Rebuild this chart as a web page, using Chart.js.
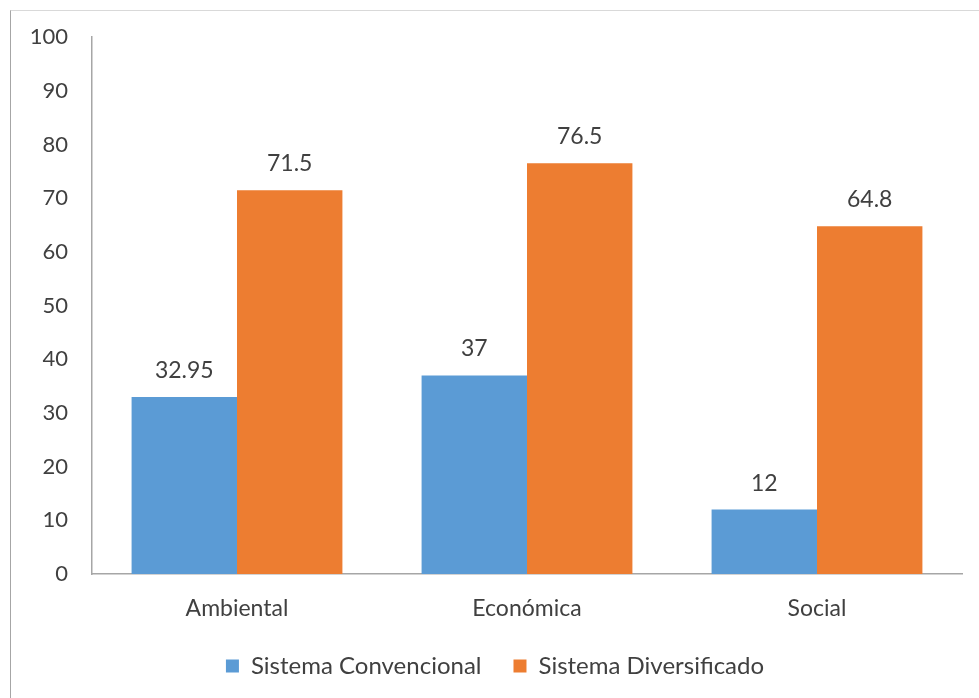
<!DOCTYPE html>
<html>
<head>
<meta charset="utf-8">
<script src="https://cdn.jsdelivr.net/npm/chart.js@4"></script>
<style>
  html, body { margin: 0; padding: 0; background: #fff; overflow: hidden; }
  #frame {
    position: absolute; left: 10px; top: 10px; width: 1000px; height: 720px;
    border-top: 1px solid #d9d9d9; border-left: 1px solid #a6a6a6;
  }
  #wrap { position: absolute; left: 0; top: 0; width: 979px; height: 698px; }
</style>
</head>
<body>
<div id="frame"></div>
<div id="wrap"><canvas id="chart"></canvas></div>
<script>
const categories = ['Ambiental', 'Económica', 'Social'];
const convencional = [32.95, 37, 12];
const diversificado = [71.5, 76.5, 64.8];
const yTicks = [0, 10, 20, 30, 40, 50, 60, 70, 80, 90, 100];

const FONT = 'Lato, "Open Sans", sans-serif';
const TEXT = '#404040';

// writes each bar's value just above it
const valueLabels = {
  id: 'valueLabels',
  afterDatasetsDraw(chart) {
    const ctx = chart.ctx;
    ctx.save();
    ctx.font = '23px ' + FONT;
    ctx.fillStyle = TEXT;
    ctx.textAlign = 'center';
    ctx.textBaseline = 'bottom';
    chart.data.datasets.forEach((ds, i) => {
      chart.getDatasetMeta(i).data.forEach((bar, j) => {
        ctx.fillText(String(ds.data[j]), bar.x, bar.y - 15);
      });
    });
    ctx.restore();
  }
};

new Chart(document.getElementById('chart'), {
  type: 'bar',
  data: {
    labels: categories,
    datasets: [
      { label: 'Sistema Convencional', data: convencional, backgroundColor: '#5b9bd5' },
      { label: 'Sistema Diversificado', data: diversificado, backgroundColor: '#ed7d31' }
    ]
  },
  options: {
    responsive: true,
    maintainAspectRatio: false,
    animation: false,
    datasets: { bar: { categoryPercentage: 0.727, barPercentage: 1 } },
    layout: { padding: { top: 31, right: 17, bottom: 10, left: 28 } },
    plugins: {
      tooltip: { enabled: false },
      legend: {
        position: 'bottom',
        labels: {
          font: { family: FONT, size: 24 },
          color: TEXT,
          boxWidth: 13,
          boxHeight: 13,
          padding: 32
        }
      }
    },
    scales: {
      x: {
        grid: { display: false, drawTicks: false },
        border: { color: '#a6a6a6', width: 1.5 },
        ticks: { font: { family: FONT, size: 23 }, color: TEXT, padding: 21 },
        afterFit(scale) { scale.height = 48; }
      },
      y: {
        min: 0,
        max: 100,
        afterBuildTicks(scale) { scale.ticks = yTicks.map(v => ({ value: v })); },
        grid: { display: false, drawTicks: false },
        border: { color: '#a6a6a6', width: 1.5 },
        ticks: { font: { family: FONT, size: 22 }, color: TEXT, padding: 24 },
        afterFit(scale) { scale.width = 64; }
      }
    }
  },
  plugins: [valueLabels]
});
</script>
</body>
</html>
